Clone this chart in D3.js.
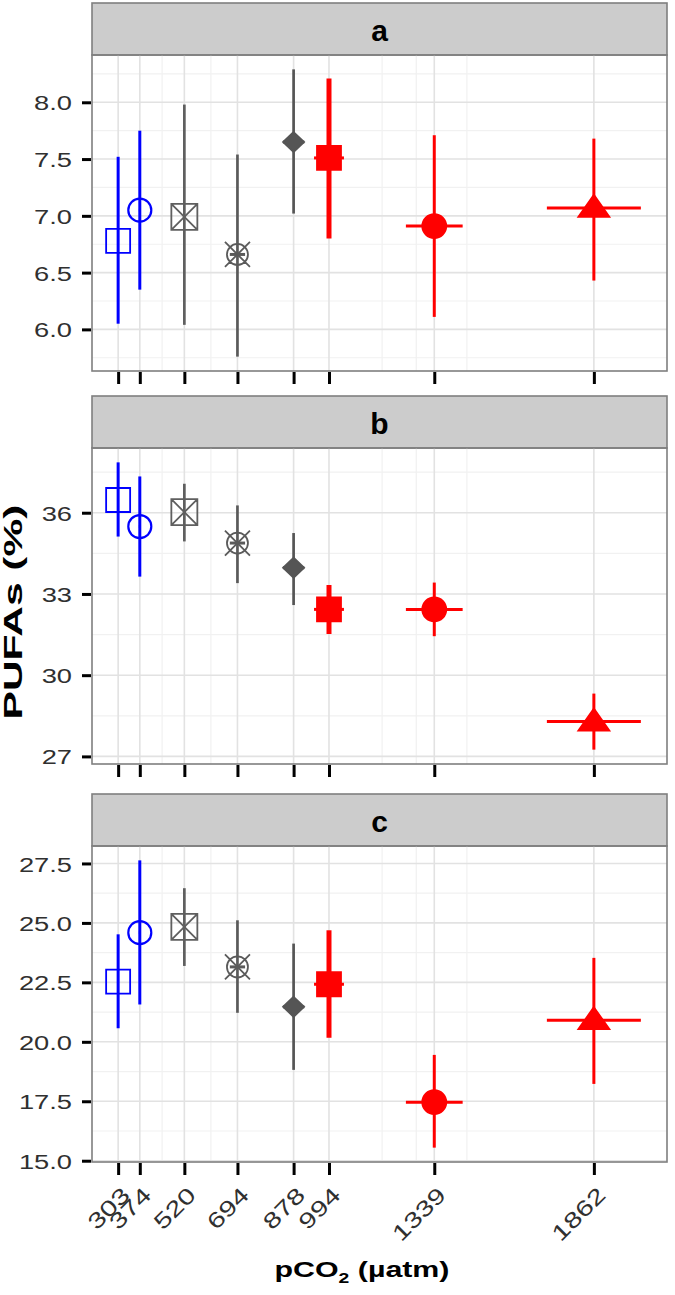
<!DOCTYPE html>
<html>
<head>
<meta charset="utf-8">
<script src="https://cdn.jsdelivr.net/npm/d3@7"></script>
<style>
body { margin: 0; background: #fff; }
text { font-family: "Liberation Sans", Arial, sans-serif; }
</style>
</head>
<body>
<svg width="675" height="1295"></svg>
<script>
// pCO2 treatments (µatm) and their spread
const pco2 = [303, 374, 520, 694, 878, 994, 1339, 1862]
const pco2Err = [0, 3, 5, 25, 35, 49, 93, 154]
const panels = ["a", "b", "c"]

// panel a
const meanA = [6.78, 7.05, 6.99, 6.66, 7.65, 7.51, 6.91, 7.07]
const lowA = [6.05, 6.35, 6.04, 5.76, 7.02, 6.80, 6.11, 6.43]
const highA = [7.52, 7.75, 7.98, 7.54, 8.29, 8.21, 7.71, 7.68]
// panel b
const meanB = [36.47, 35.49, 36.02, 34.88, 33.97, 32.43, 32.43, 28.29]
const lowB = [35.12, 33.64, 34.94, 33.40, 32.59, 31.52, 31.44, 27.25]
const highB = [37.86, 37.34, 37.07, 36.27, 35.25, 33.33, 33.42, 29.32]
// panel c
const meanC = [22.53, 24.59, 24.83, 23.15, 21.47, 22.42, 17.46, 20.91]
const lowC = [20.57, 21.57, 23.19, 21.22, 18.82, 20.17, 15.55, 18.23]
const highC = [24.52, 27.63, 26.46, 25.11, 24.13, 24.69, 19.45, 23.53]

const ticksA = [6.0, 6.5, 7.0, 7.5, 8.0]
const ticksB = [27, 30, 33, 36]
const ticksC = [15.0, 17.5, 20.0, 22.5, 25.0, 27.5]
const xMinor = [447, 607, 1168, 1280, 1446]

// styles
const shapes = ["square", "circle", "squareX", "circleX", "diamond", "squareF", "circleF", "triangle"]
const colores = ["#0000ff", "#0000ff", "#5f5f5f", "#5a5a5a", "#555555", "#ff0000", "#ff0000", "#ff0000"]
const lineW = [3, 3, 2.7, 2.7, 2.7, 5, 3, 3]

const left = 92, right = 667, panelH = 316, stripH = 52
const tops = [55, 448, 846]
const tickFont = "'Liberation Sans', Arial, sans-serif"

const svg = d3.select("svg")

function pad(ext){
	const r = ext[1] - ext[0]
	return [ext[0] - r * 0.05, ext[1] + r * 0.05]
}

const x = d3.scaleLinear()
	.domain(pad([d3.min(pco2, (d, i) => d - pco2Err[i]), d3.max(pco2, (d, i) => d + pco2Err[i])]))
	.range([left, right])

const series = [
	{ mean: meanA, low: lowA, high: highA, ticks: ticksA, fmt: d3.format(".1f") },
	{ mean: meanB, low: lowB, high: highB, ticks: ticksB, fmt: d3.format("d") },
	{ mean: meanC, low: lowC, high: highC, ticks: ticksC, fmt: d3.format(".1f") }
]

function shapePath(s){
	const circ = r => `M${r},0A${r},${r} 0 1 1 ${-r},0A${r},${r} 0 1 1 ${r},0Z`
	switch (s) {
		case "square": case "squareF": return "M-12,-12h24v24h-24Z"
		case "squareX": return "M-13,-13h26v26h-26Z M-13,-13L13,13 M13,-13L-13,13"
		case "circle": return circ(11.5)
		case "circleF": return circ(12)
		case "circleX": return circ(10.5) + " M-12.5,-12.5L12.5,12.5 M12.5,-12.5L-12.5,12.5"
		case "diamond": return "M0,-10L10.5,0L0,10L-10.5,0Z"
		case "triangle": return "M0,-13L15.5,9L-15.5,9Z"
	}
}
const filled = s => ["squareF", "circleF", "diamond", "triangle"].includes(s)

series.forEach((sr, p) => {
	const top = tops[p]
	const bottom = top + panelH
	const y = d3.scaleLinear()
		.domain(pad([d3.min(sr.low), d3.max(sr.high)]))
		.range([bottom, top])
	const g = svg.append("g").attr("class", "panel-" + panels[p])

	// strip
	g.append("rect")
		.attr("x", left).attr("y", top - stripH)
		.attr("width", right - left).attr("height", stripH)
		.attr("fill", "#cccccc").attr("stroke", "#7f7f7f").attr("stroke-width", 1.6)
	g.append("text")
		.attr("x", (left + right) / 2).attr("y", top - stripH / 2 + 12)
		.attr("text-anchor", "middle")
		.style("font-weight", "bold").style("font-size", "30px")
		.text(panels[p])

	// grid
	const step = sr.ticks[1] - sr.ticks[0]
	const yMinor = d3.range(sr.ticks[0] - step / 2, y.domain()[1], step)
		.filter(v => v > y.domain()[0])
	g.selectAll(".ymin").data(yMinor).enter().append("line")
		.attr("x1", left).attr("x2", right)
		.attr("y1", d => y(d)).attr("y2", d => y(d))
		.attr("stroke", "#f1f1f1").attr("stroke-width", 1.2)
	g.selectAll(".xmin").data(xMinor).enter().append("line")
		.attr("y1", top).attr("y2", bottom)
		.attr("x1", d => x(d)).attr("x2", d => x(d))
		.attr("stroke", "#f1f1f1").attr("stroke-width", 1.2)
	g.selectAll(".ymaj").data(sr.ticks).enter().append("line")
		.attr("x1", left).attr("x2", right)
		.attr("y1", d => y(d)).attr("y2", d => y(d))
		.attr("stroke", "#e2e2e2").attr("stroke-width", 1.6)
	g.selectAll(".xmaj").data(pco2).enter().append("line")
		.attr("y1", top).attr("y2", bottom)
		.attr("x1", d => x(d)).attr("x2", d => x(d))
		.attr("stroke", "#e2e2e2").attr("stroke-width", 1.6)

	// error bars
	g.selectAll(".ev").data(pco2).enter().append("line")
		.attr("x1", d => x(d)).attr("x2", d => x(d))
		.attr("y1", (d, i) => y(sr.low[i])).attr("y2", (d, i) => y(sr.high[i]))
		.attr("stroke", (d, i) => colores[i]).attr("stroke-width", (d, i) => lineW[i])
	g.selectAll(".eh").data(pco2).enter().append("line")
		.attr("x1", (d, i) => x(d - pco2Err[i])).attr("x2", (d, i) => x(d + pco2Err[i]))
		.attr("y1", (d, i) => y(sr.mean[i])).attr("y2", (d, i) => y(sr.mean[i]))
		.attr("stroke", (d, i) => colores[i]).attr("stroke-width", 3)

	// points
	g.selectAll(".pt").data(pco2).enter().append("path")
		.attr("transform", (d, i) => `translate(${x(d)},${y(sr.mean[i])})`)
		.attr("d", (d, i) => shapePath(shapes[i]))
		.attr("fill", (d, i) => filled(shapes[i]) ? colores[i] : "none")
		.attr("stroke", (d, i) => colores[i])
		.attr("stroke-width", (d, i) => shapes[i] == "circle" ? 2.2 : 1.8)

	// frame
	g.append("rect")
		.attr("x", left).attr("y", top)
		.attr("width", right - left).attr("height", panelH)
		.attr("fill", "none").attr("stroke", "#7f7f7f").attr("stroke-width", 1.6)

	// y axis
	const yAxisG = g.append("g").attr("transform", `translate(${left - 1},0)`)
		.call(d3.axisLeft(y).tickValues(sr.ticks).tickSize(9).tickPadding(0).tickFormat(sr.fmt))
	yAxisG.select(".domain").remove()
	yAxisG.selectAll(".tick line").attr("stroke", "#000").attr("stroke-width", 3)
	yAxisG.selectAll(".tick text")
		.attr("x", -19 / 1.3).attr("dy", "0.36em")
		.attr("transform", "scale(1.3,1)")
		.attr("fill", "#303030").style("font-size", "21px").style("font-family", tickFont)

	// x axis
	const xAxisG = g.append("g").attr("transform", `translate(0,${bottom + 1})`)
		.call(d3.axisBottom(x).tickValues(pco2).tickSize(12).tickFormat(p == 2 ? d3.format("d") : ""))
	xAxisG.select(".domain").remove()
	xAxisG.selectAll(".tick line").attr("stroke", "#000").attr("stroke-width", 3)
	if (p == 2) {
		xAxisG.selectAll(".tick text")
			.attr("x", 0).attr("y", 0).attr("dy", "0.74em")
			.attr("text-anchor", "end")
			.attr("transform", "translate(1,22) rotate(-45) scale(1.33,1)")
			.attr("fill", "#303030").style("font-size", "22px").style("font-family", tickFont)
	}
})

// axis titles
const xt = svg.append("text")
	.attr("transform", "translate(362,1277) scale(1.38,1)")
	.attr("text-anchor", "middle")
	.style("font-weight", "bold").style("font-size", "22px")
xt.append("tspan").text("pCO")
xt.append("tspan").attr("dy", 6).style("font-size", "14px").text("2")
xt.append("tspan").attr("dy", -6).text(" (µatm)")

svg.append("text")
	.attr("transform", "translate(22,612) rotate(-90) scale(1.7,1)")
	.attr("text-anchor", "middle")
	.style("font-weight", "bold").style("font-size", "25px")
	.text("PUFAs (%)")
</script>
</body>
</html>
